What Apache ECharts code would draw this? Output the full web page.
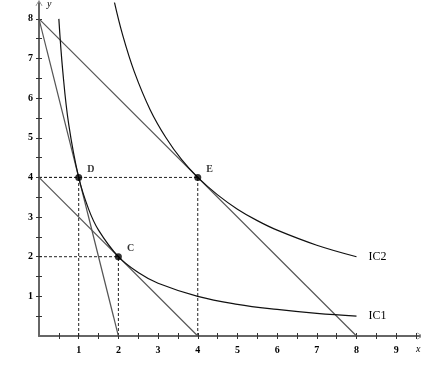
<!DOCTYPE html>
<html><head><meta charset="utf-8">
<script src="https://cdn.jsdelivr.net/npm/echarts@6/dist/echarts.min.js"></script>
<style>html,body{margin:0;padding:0;background:#fff}#c{width:421px;height:374px}</style>
</head><body><div id="c"></div>
<script>
// Tick values
var xTickLabels = [1,2,3,4,5,6,7,8,9];
var yTickLabels = [1,2,3,4,5,6,7,8];
var xMinorTicks = [0.5,1,1.5,2,2.5,3,3.5,4,4.5,5,5.5,6,6.5,7,7.5,8,8.5,9,9.5];
var yMinorTicks = [0.5,1,1.5,2,2.5,3,3.5,4,4.5,5,5.5,6,6.5,7,7.5,8];

// Indifference curves
var ic1X = [0.5,0.6,0.75,1,1.25,1.5,2,2.5,3,4,5,6,7,8];
var ic1Y = [8,6.67,5.33,4,3.2,2.67,2,1.6,1.33,1,0.8,0.67,0.57,0.5];
var ic2X = [1.9,2.1,2.4,2.8,3.2,3.6,4,4.5,5,5.5,6,7,8];
var ic2Y = [8.42,7.62,6.67,5.71,5,4.44,4,3.56,3.2,2.91,2.67,2.29,2];

// Budget lines
var line1X = [0,2], line1Y = [8,0];
var line2X = [0,8], line2Y = [8,0];
var line3X = [0,4], line3Y = [4,0];

// Points
var ptNames = ['D','E','C'];
var ptX = [1,4,2];
var ptY = [4,4,2];

function zip(a,b){return a.map(function(v,i){return [v,b[i]];});}

var serif = 'Liberation Serif';
var axisCol = '#666';
var arrow = 'path://M0,0 L6,10 L5,10 L0,2 L-5,10 L-6,10 Z';

var dashSeries = [];
ptX.forEach(function(px,i){
  var py = ptY[i];
  dashSeries.push({type:'line', data:[[0,py],[px,py]], symbol:'none', lineStyle:{color:'#222',width:1,type:[3,2]}, silent:true, z:1});
  dashSeries.push({type:'line', data:[[px,0],[px,py]], symbol:'none', lineStyle:{color:'#222',width:1,type:[3,2]}, silent:true, z:1});
});

var labelStyle = {fontFamily:serif, fontSize:10, color:'#000', fontWeight:'bold'};

var chart = echarts.init(document.getElementById('c'));
chart.setOption({
  animation:false,
  backgroundColor:'#fff',
  grid:{left:39, right:1, top:3, bottom:38, containLabel:false, outerBoundsMode:'none'},
  xAxis:[{type:'value', min:0, max:9.6,
    name:'x', nameLocation:'end', nameGap:-4,
    nameTextStyle:{fontFamily:serif, fontStyle:'italic', fontSize:10, color:'#000', verticalAlign:'top', padding:[8,0,0,0]},
    axisLine:{lineStyle:{color:axisCol, width:2}, symbol:['none',arrow], symbolSize:[7,8]},
    axisTick:{show:true, customValues:xMinorTicks, length:3, inside:false, lineStyle:{color:'#333'}},
    axisLabel:Object.assign({customValues:xTickLabels, margin:9}, labelStyle),
    splitLine:{show:false}},
   {type:'value', min:0, max:9.6, position:'bottom',
    axisLine:{show:false},
    axisTick:{show:true, customValues:xMinorTicks, length:3, inside:true, lineStyle:{color:'#333'}},
    axisLabel:{show:false}, splitLine:{show:false}}],
  yAxis:[{type:'value', min:0, max:8.4,
    name:'y', nameLocation:'end', nameGap:-6,
    nameTextStyle:{fontFamily:serif, fontStyle:'italic', fontSize:10, color:'#000', align:'left', padding:[0,0,0,8]},
    axisLine:{lineStyle:{color:axisCol, width:2}, symbol:['none',arrow], symbolSize:[7,8]},
    axisTick:{show:true, customValues:yMinorTicks, length:3, inside:false, lineStyle:{color:'#333'}},
    axisLabel:Object.assign({customValues:yTickLabels, margin:6}, labelStyle),
    splitLine:{show:false}},
   {type:'value', min:0, max:8.4, position:'left',
    axisLine:{show:false},
    axisTick:{show:true, customValues:yMinorTicks, length:3, inside:true, lineStyle:{color:'#333'}},
    axisLabel:{show:false}, splitLine:{show:false}}],
  series: dashSeries.concat([
    {type:'line', data:zip(line1X,line1Y), symbol:'none', lineStyle:{color:'#555',width:1.2}, z:2},
    {type:'line', data:zip(line2X,line2Y), symbol:'none', lineStyle:{color:'#555',width:1.2}, z:2},
    {type:'line', data:zip(line3X,line3Y), symbol:'none', lineStyle:{color:'#555',width:1.2}, z:2},
    {type:'line', name:'IC1', data:zip(ic1X,ic1Y), smooth:0.4, symbol:'none', lineStyle:{color:'#111',width:1.2}, z:3,
      endLabel:{show:true, formatter:'IC1', fontFamily:serif, fontSize:12, color:'#000', distance:12}},
    {type:'line', name:'IC2', data:zip(ic2X,ic2Y), smooth:0.4, symbol:'none', lineStyle:{color:'#111',width:1.2}, z:3,
      endLabel:{show:true, formatter:'IC2', fontFamily:serif, fontSize:12, color:'#000', distance:12}},
    {type:'scatter', data:ptNames.map(function(n,i){return {name:n, value:[ptX[i],ptY[i]]};}),
      symbolSize:7, itemStyle:{color:'#000'}, z:5,
      label:{show:true, formatter:'{b}', position:'right', offset:[0,-8], fontFamily:serif, fontSize:10, fontWeight:'bold', color:'#000'}}
  ])
});
</script></body></html>
